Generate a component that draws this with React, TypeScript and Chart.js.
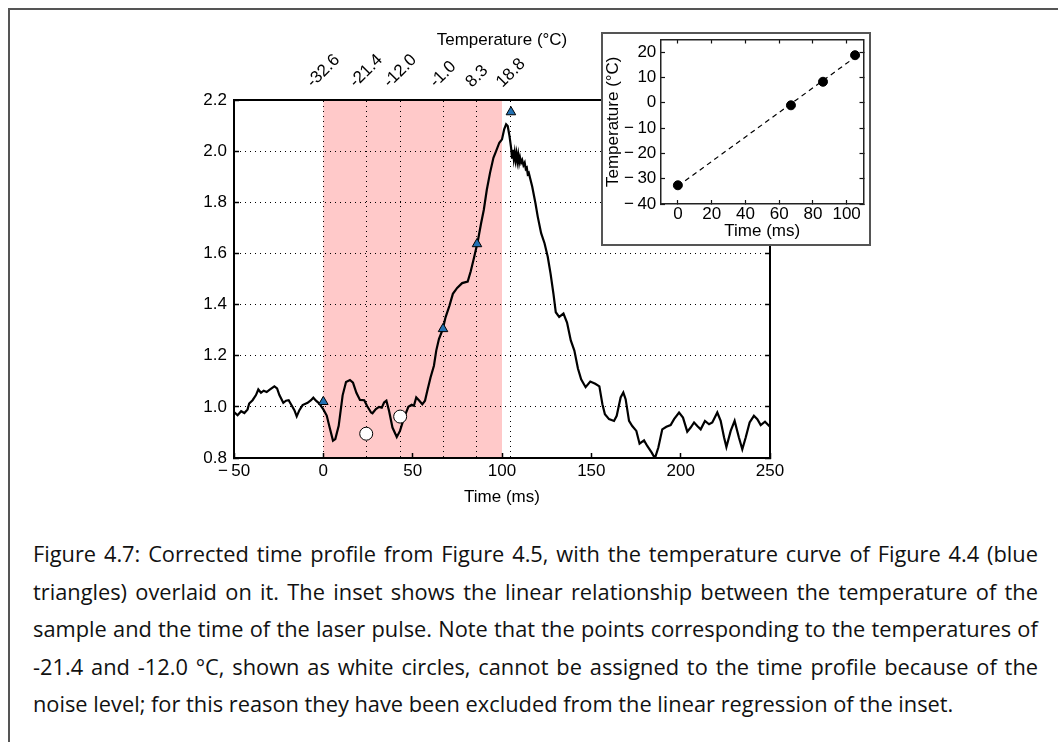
import React, { useEffect, useRef } from "react";
import { Chart, registerables } from "chart.js";

Chart.register(...registerables);

// Corrected time profile (time in ms, normalised intensity)
const TIME_MS = [
  -50, -48, -46, -44.2, -42.4, -41.5, -39.6, -37.7, -36.4, -34.9, -33.4, -31.7, -30.2, -27.4, -25.9,
  -24.6, -22.4, -20.9, -19.4, -18.1, -16.2, -14.9, -13.4, -11.6, -8.8, -6.9, -5.6, -4.1, -2.2, 0,
  1.9, 3.5, 5.4, 6.7, 8.6, 10.8, 12.7, 14.9, 16.6, 18.5, 20.5, 22.9, 24.5, 26.7, 27.5, 29.4, 31.2,
  32.7, 34, 35.3, 36.8, 38.7, 41.1, 42.9, 45.2, 47.6, 49.4, 50.7, 52, 53.5, 55.4, 56.9, 58.2, 60,
  61.9, 63.2, 64.7, 66.9, 68.4, 70.6, 72.5, 74.9, 77.7, 80.8, 82.5, 84.4, 86.4, 88.3, 89.8, 91.5,
  93.3, 95.2, 96.7, 98.5, 100, 101.2, 102.3, 103.2, 104.2, 105.1, 105.6, 106.1, 106.6, 107.1, 107.6,
  108.1, 108.6, 109.1, 109.6, 110.1, 110.7, 111.3, 112, 112.7, 113.3, 113.9, 114.4, 115, 116.9,
  118.7, 120, 121.9, 123.8, 125.6, 127.2, 128.8, 130.1, 132, 134.4, 136.4, 138.5, 140.5, 142.5,
  144.3, 146.8, 149.4, 152.2, 154.5, 156.2, 157.6, 159.9, 162.7, 164.2, 166.4, 167.9, 169.2, 171.1,
  172.9, 175.2, 177, 179.5, 181.3, 183.8, 185.6, 187.5, 189.7, 192, 194.4, 196.3, 199.1, 201.3,
  203.7, 205.6, 207.5, 209.3, 211.2, 213.6, 215.9, 217.7, 220.5, 222.4, 224.3, 225.6, 228, 230.2,
  232.6, 234.5, 236.4, 238.6, 241, 242.9, 244.8, 247.2, 250,
];
const INTENSITY = [
  0.98, 0.967, 0.983, 0.976, 0.99, 1.013, 1.026, 1.046, 1.068, 1.055, 1.063, 1.058, 1.066, 1.08, 1.072,
  1.046, 1.016, 1.024, 1.026, 1.01, 0.987, 0.963, 0.987, 1.007, 1.016, 1.026, 1.036, 1.024, 1.013, 0.99,
  0.966, 0.92, 0.868, 0.874, 0.926, 1.045, 1.097, 1.105, 1.095, 1.055, 1.027, 1.026, 1.003, 0.978, 0.975, 0.991, 1.0,
  0.997, 1.017, 1.024, 0.984, 0.919, 0.882, 0.906, 0.958, 1.0, 1.008, 1.004, 1.037, 1.026, 1.01, 1.024, 1.063, 1.115,
  1.161, 1.22, 1.265, 1.305, 1.35, 1.396, 1.442, 1.465, 1.484, 1.49, 1.53, 1.585, 1.646, 1.718, 1.77, 1.849,
  1.915, 1.974, 2.0, 2.033, 2.046, 2.085, 2.105, 2.098, 2.059, 2.013, 1.975, 2.005, 1.97, 1.995, 1.965,
  1.99, 1.96, 1.985, 1.955, 1.975, 1.955, 1.965, 1.945, 1.955, 1.93, 1.935, 1.91, 1.915, 1.862,
  1.797, 1.744, 1.679, 1.64, 1.587, 1.52, 1.442, 1.37, 1.352, 1.365, 1.33, 1.26, 1.22, 1.15,
  1.108, 1.077, 1.099, 1.09, 1.08, 1.01, 0.971, 0.952, 0.945, 0.965, 1.037, 1.056, 1.03, 0.945,
  0.925, 0.906, 0.856, 0.869, 0.847, 0.821, 0.799, 0.841, 0.912, 0.922, 0.929, 0.952, 0.978, 0.958,
  0.903, 0.919, 0.939, 0.925, 0.912, 0.945, 0.932, 0.939, 0.978, 0.945, 0.88, 0.843, 0.906, 0.945,
  0.88, 0.834, 0.88, 0.939, 0.965, 0.952, 0.929, 0.942, 0.922,
];

// Temperature curve overlay (blue triangles) and the two excluded points (white circles)
const TRI_TIME = [0, 67, 86, 105];
const TRI_VALUE = [1.02, 1.305, 1.637, 2.153];
const EXCL_TIME = [24, 43];
const EXCL_VALUE = [0.895, 0.962];

// Laser-pulse window shaded in pink
const PULSE_WINDOW = [0, 100];

// Top axis: temperature at each pulse time
const TEMP_TIME = [0, 24, 43, 67, 86, 105];
const TEMP_LABEL = ["-32.6", "-21.4", "-12.0", "-1.0", "8.3", "18.8"];

const X_TICKS = [-50, 0, 50, 100, 150, 200, 250];
const Y_TICKS = [0.8, 1.0, 1.2, 1.4, 1.6, 1.8, 2.0, 2.2];

// Inset: temperature vs time with linear regression
const INSET_TIME = [0, 67, 86, 105];
const INSET_TEMP = [-32.6, -1.0, 8.3, 18.8];
const REG_TIME = [0, 105];
const REG_TEMP = [-32.9, 18.0];
const INSET_X_TICKS = [0, 20, 40, 60, 80, 100];
const INSET_Y_TICKS = [-40, -30, -20, -10, 0, 10, 20];

const CAPTION_LINES = [
  "Figure 4.7: Corrected time profile from Figure 4.5, with the temperature curve of Figure 4.4 (blue",
  "triangles) overlaid on it. The inset shows the linear relationship between the temperature of the",
  "sample and the time of the laser pulse. Note that the points corresponding to the temperatures of",
  "-21.4 and -12.0 °C, shown as white circles, cannot be assigned to the time profile because of the",
  "noise level; for this reason they have been excluded from the linear regression of the inset.",
];

const FONT = "'Liberation Sans', Arial, Helvetica, sans-serif";
const FONT_SIZE = 17;
const AX_FONT = { family: FONT, size: FONT_SIZE };

const signed = (v: number) => (v < 0 ? "\u2212\u2009" + Math.abs(v) : String(v));
const fixTicks = (vals: number[]) => (s: any) => {
  s.ticks = vals.map((v) => ({ value: v }));
};

const pulseBand = {
  id: "pulseBand",
  beforeDraw(chart: any) {
    const { ctx, chartArea, scales } = chart;
    const x0 = scales.x.getPixelForValue(PULSE_WINDOW[0]);
    const x1 = scales.x.getPixelForValue(PULSE_WINDOW[1]);
    ctx.save();
    ctx.fillStyle = "#ffc9c9";
    ctx.fillRect(x0, chartArea.top, x1 - x0, chartArea.bottom - chartArea.top);
    ctx.restore();
  },
};

// Rotated temperature labels centred over the top-axis ticks
const tempLabels = {
  id: "tempLabels",
  afterDraw(chart: any) {
    const { ctx, chartArea, scales } = chart;
    const s = scales.top;
    ctx.save();
    ctx.font = `${FONT_SIZE}px ${FONT}`;
    ctx.fillStyle = "#000";
    ctx.textAlign = "center";
    ctx.textBaseline = "middle";
    const h = 12;
    TEMP_TIME.forEach((t, i) => {
      const label = TEMP_LABEL[i];
      const w = ctx.measureText(label).width;
      const half = (w + h) / Math.SQRT2 / 2;
      const x = s.getPixelForValue(t);
      const y = chartArea.top - 11 - half;
      ctx.save();
      ctx.translate(x, y);
      ctx.rotate(-Math.PI / 4);
      ctx.fillText(label, 0, 0);
      ctx.restore();
    });
    ctx.restore();
  },
};

function mainConfig(): any {
  return {
    type: "scatter",
    data: {
      datasets: [
        {
          data: TIME_MS.map((t, i) => ({ x: t, y: INTENSITY[i] })),
          showLine: true,
          borderColor: "#000",
          borderWidth: 2.2,
          pointRadius: 0,
          tension: 0,
          order: 3,
        },
        {
          data: EXCL_TIME.map((t, i) => ({ x: t, y: EXCL_VALUE[i] })),
          pointStyle: "circle",
          pointRadius: 6.5,
          backgroundColor: "#fff",
          borderColor: "#000",
          borderWidth: 1,
          order: 2,
        },
        {
          data: TRI_TIME.map((t, i) => ({ x: t, y: TRI_VALUE[i] })),
          pointStyle: "triangle",
          pointRadius: 5.5,
          backgroundColor: "#2271b3",
          borderColor: "#000",
          borderWidth: 1,
          order: 1,
        },
      ],
    },
    options: {
      animation: false,
      responsive: false,
      events: [],
      layout: { padding: { left: 174, right: 287, top: 25, bottom: 10 } },
      plugins: { legend: { display: false }, tooltip: { enabled: false } },
      scales: {
        x: {
          type: "linear",
          axis: "x",
          position: "bottom",
          min: -50,
          max: 250,
          afterBuildTicks: fixTicks(X_TICKS),
          ticks: { font: AX_FONT, color: "#000", padding: 7.8, autoSkip: false, maxRotation: 0, callback: (v: number) => signed(v) },
          grid: { drawOnChartArea: false, drawTicks: true, tickLength: -5, tickColor: "#000", tickWidth: 1.5 },
          border: { color: "#000", width: 2 },
          title: { display: true, text: "Time (ms)", font: AX_FONT, color: "#000", padding: { top: 0, bottom: 2.8 } },
          afterFit: (s: any) => {
            s.height = 52;
            s.paddingLeft = 0;
            s.paddingRight = 0;
          },
        },
        top: {
          type: "linear",
          axis: "x",
          position: "top",
          min: -50,
          max: 250,
          afterBuildTicks: fixTicks(TEMP_TIME),
          ticks: { display: false },
          grid: { drawOnChartArea: true, drawTicks: false, color: "#000", lineWidth: 1 },
          border: { color: "#000", width: 2, dash: [1, 4] },
          title: { display: true, text: "Temperature (°C)", font: AX_FONT, color: "#000", padding: { top: 5.5, bottom: 0 } },
          afterFit: (s: any) => {
            s.height = 75;
            s.paddingLeft = 0;
            s.paddingRight = 0;
          },
        },
        y: {
          type: "linear",
          axis: "y",
          position: "left",
          min: 0.8,
          max: 2.2,
          afterBuildTicks: fixTicks(Y_TICKS),
          ticks: { font: AX_FONT, color: "#000", padding: 12, autoSkip: false, callback: (v: number) => v.toFixed(1) },
          grid: { color: "#000", lineWidth: 1, drawTicks: true, tickLength: -5, tickColor: "#000", tickWidth: 1.5, tickBorderDash: [] },
          border: { color: "#000", width: 2, dash: [1, 4] },
          afterFit: (s: any) => {
            s.width = 60;
            s.paddingTop = 0;
            s.paddingBottom = 0;
          },
        },
        yR: {
          type: "linear",
          axis: "y",
          position: "right",
          min: 0.8,
          max: 2.2,
          afterBuildTicks: fixTicks(Y_TICKS),
          ticks: { display: false },
          grid: { drawOnChartArea: false, drawTicks: true, tickLength: -5, tickColor: "#000", tickWidth: 1.5 },
          border: { color: "#000", width: 2 },
          afterFit: (s: any) => {
            s.width = 1;
            s.paddingTop = 0;
            s.paddingBottom = 0;
          },
        },
      },
    },
    plugins: [pulseBand, tempLabels],
  };
}

function insetConfig(): any {
  const tick = { drawTicks: true, tickLength: -4, tickColor: "#111", tickWidth: 1.2 };
  const border = { color: "#222", width: 1.5 };
  return {
    type: "scatter",
    data: {
      datasets: [
        {
          data: REG_TIME.map((t, i) => ({ x: t, y: REG_TEMP[i] })),
          showLine: true,
          borderColor: "#000",
          borderWidth: 1.2,
          borderDash: [5, 4],
          pointRadius: 0,
          order: 2,
        },
        {
          data: INSET_TIME.map((t, i) => ({ x: t, y: INSET_TEMP[i] })),
          pointRadius: 4.5,
          backgroundColor: "#000",
          borderColor: "#000",
          borderWidth: 1,
          order: 1,
        },
      ],
    },
    options: {
      animation: false,
      responsive: false,
      events: [],
      layout: { padding: 0 },
      plugins: { legend: { display: false }, tooltip: { enabled: false } },
      scales: {
        x: {
          type: "linear",
          axis: "x",
          position: "bottom",
          min: -10,
          max: 110,
          afterBuildTicks: fixTicks(INSET_X_TICKS),
          ticks: { font: AX_FONT, color: "#000", padding: 3.8, autoSkip: false, maxRotation: 0 },
          grid: { drawOnChartArea: false, ...tick },
          border,
          title: { display: true, text: "Time (ms)", font: AX_FONT, color: "#000", padding: { top: 0, bottom: 2.1 } },
          afterFit: (s: any) => {
            s.height = 40;
            s.paddingLeft = 0;
            s.paddingRight = 0;
          },
        },
        xT: {
          type: "linear",
          axis: "x",
          position: "top",
          min: -10,
          max: 110,
          afterBuildTicks: fixTicks(INSET_X_TICKS),
          ticks: { display: false },
          grid: { drawOnChartArea: false, ...tick },
          border,
          afterFit: (s: any) => {
            s.height = 5;
            s.paddingLeft = 0;
            s.paddingRight = 0;
          },
        },
        y: {
          type: "linear",
          axis: "y",
          position: "left",
          min: -40,
          max: 25,
          afterBuildTicks: fixTicks(INSET_Y_TICKS),
          ticks: { font: AX_FONT, color: "#000", padding: 8.7, autoSkip: false, callback: (v: number) => signed(v) },
          grid: { drawOnChartArea: false, ...tick },
          border,
          title: { display: true, text: "Temperature (°C)", font: AX_FONT, color: "#000", padding: { top: 0.4, bottom: 0 } },
          afterFit: (s: any) => {
            s.width = 58;
            s.paddingTop = 0;
            s.paddingBottom = 0;
          },
        },
        yR: {
          type: "linear",
          axis: "y",
          position: "right",
          min: -40,
          max: 25,
          afterBuildTicks: fixTicks(INSET_Y_TICKS),
          ticks: { display: false },
          grid: { drawOnChartArea: false, ...tick },
          border,
          afterFit: (s: any) => {
            s.width = 4.3;
            s.paddingTop = 0;
            s.paddingBottom = 0;
          },
        },
      },
    },
  };
}

const CAPTION_FONT = "'Open Sans', Lato, 'DejaVu Sans', sans-serif";

function CaptionLine({ text, last }: { text: string; last: boolean }) {
  if (last) {
    return <div style={{ height: 37.5, whiteSpace: "pre" }}>{text}</div>;
  }
  const words = text.split(" ");
  return (
    <div style={{ height: 37.5, display: "flex", justifyContent: "space-between", whiteSpace: "pre" }}>
      {words.map((w, i) => (
        <span key={i}>{w}</span>
      ))}
    </div>
  );
}

export default function App() {
  const mainRef = useRef<HTMLCanvasElement>(null);
  const insetRef = useRef<HTMLCanvasElement>(null);

  useEffect(() => {
    const main = new Chart(mainRef.current as HTMLCanvasElement, mainConfig());
    const inset = new Chart(insetRef.current as HTMLCanvasElement, insetConfig());
    return () => {
      main.destroy();
      inset.destroy();
    };
  }, []);

  return (
    <div
      style={{
        position: "absolute",
        left: 0,
        top: 0,
        width: 1058,
        height: 742,
        overflow: "hidden",
        background: "#fff",
      }}
    >
      <div
        style={{
          position: "absolute",
          left: 8,
          top: 8,
          width: 1200,
          height: 900,
          borderLeft: "2px solid #555",
          borderTop: "2px solid #555",
        }}
      />
      <canvas ref={mainRef} width={1058} height={520} style={{ position: "absolute", left: 0, top: 0 }} />
      <div
        style={{
          position: "absolute",
          left: 601,
          top: 32,
          width: 270,
          height: 214,
          boxSizing: "border-box",
          border: "2px solid #555",
          background: "#fff",
        }}
      >
        <canvas ref={insetRef} width={266} height={210} style={{ display: "block" }} />
      </div>
      <div
        style={{
          position: "absolute",
          left: 33,
          top: 535,
          width: 1005,
          fontFamily: CAPTION_FONT,
          fontSize: 21.8,
          lineHeight: "37.5px",
          color: "#111",
        }}
      >
        {CAPTION_LINES.map((line, i) => (
          <CaptionLine key={i} text={line} last={i === CAPTION_LINES.length - 1} />
        ))}
      </div>
    </div>
  );
}
